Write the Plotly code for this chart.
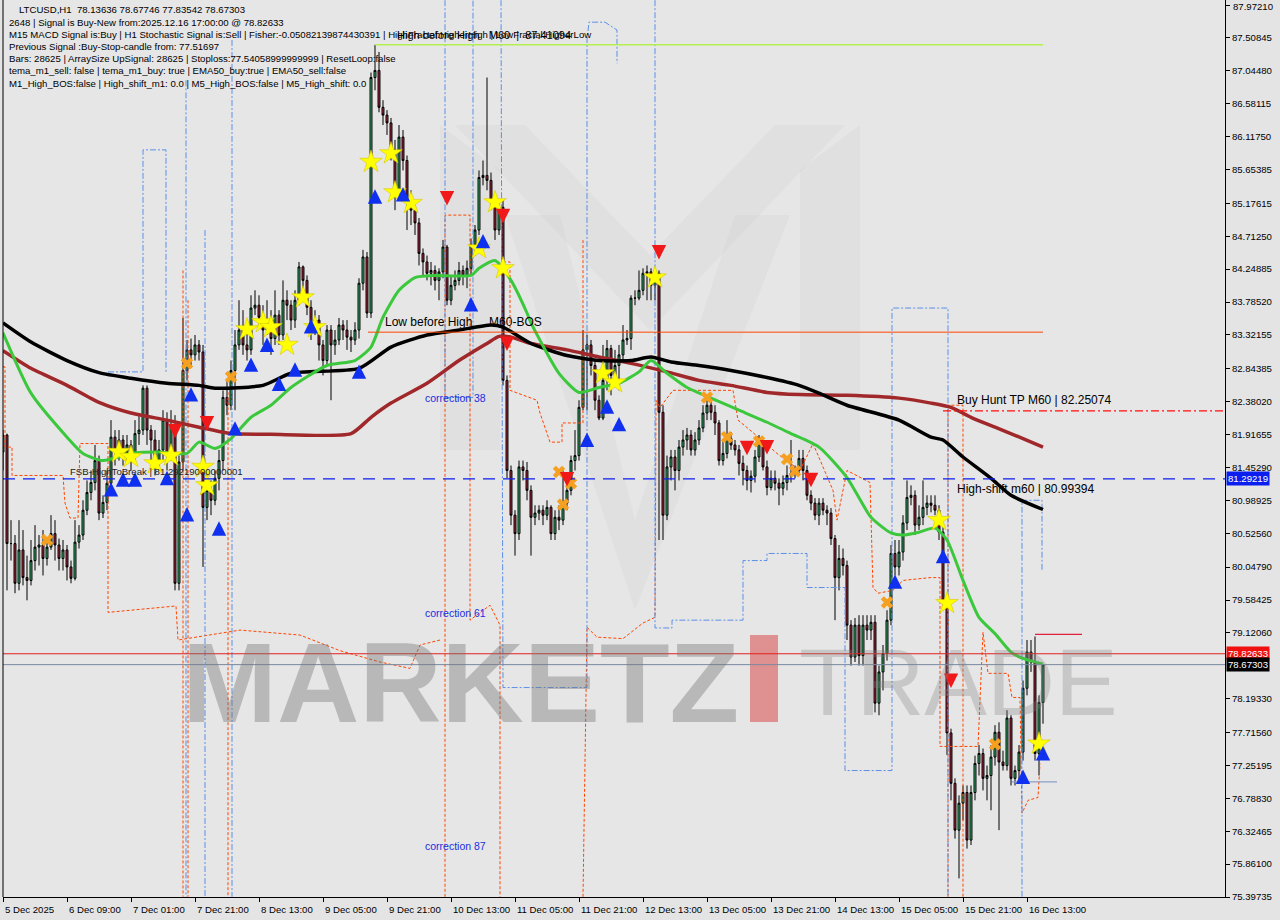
import plotly.graph_objects as go

# ---------------- data ----------------
time_tick_bars = [0, 16, 32, 48, 64, 80, 96, 112, 128, 144, 160, 176, 192, 208, 224, 240, 256]
time_tick_labels = ["5 Dec 2025", "6 Dec 09:00", "7 Dec 01:00", "7 Dec 21:00", "8 Dec 13:00",
                    "9 Dec 05:00", "9 Dec 21:00", "10 Dec 13:00", "11 Dec 05:00", "11 Dec 21:00",
                    "12 Dec 13:00", "13 Dec 05:00", "13 Dec 21:00", "14 Dec 13:00", "15 Dec 05:00",
                    "15 Dec 21:00", "16 Dec 13:00"]
price_tick_values = [87.97210, 87.50845, 87.04480, 86.58115, 86.11750, 85.65385, 85.17615, 84.71250,
                     84.24885, 83.78520, 83.32155, 82.84385, 82.38020, 81.91655, 81.45290, 80.98925,
                     80.52560, 80.04790, 79.58425, 79.12060, 78.19330, 77.71560, 77.25195, 76.78830,
                     76.32465, 75.86100, 75.39735]
price_tick_labels = ["%.5f" % v for v in price_tick_values]

first_open = 81.67
closes = [
    81.91, 80.38, 80.38, 79.82, 80.29, 79.90, 79.86, 80.14, 80.33, 80.36,
    80.17, 80.33, 80.52, 80.36, 80.17, 80.29, 80.05, 79.89, 80.40, 80.50,
    80.85, 81.10, 81.24, 81.55, 80.81, 80.96, 81.23, 81.88, 81.70, 81.84,
    81.62, 81.77, 81.62, 81.93, 81.98, 82.57, 81.98, 81.84, 81.55, 81.70,
    82.12, 81.62, 82.05, 79.82, 81.53, 82.82, 83.11, 83.04, 83.18, 83.08,
    80.89, 81.13, 80.99, 81.30, 81.55, 82.44, 82.33, 82.82, 83.18, 83.39,
    83.18, 83.11, 83.70, 83.74, 83.57, 83.39, 83.53, 83.27, 83.60, 83.32,
    83.81, 83.74, 83.53, 83.81, 84.28, 84.09, 83.71, 83.43, 83.53, 83.18,
    82.96, 83.39, 83.18, 83.25, 83.46, 83.39, 83.29, 83.25, 83.39, 84.05,
    84.42, 83.63, 86.95, 87.05, 86.53, 86.42, 86.31, 85.93, 85.36, 86.11,
    85.78, 85.22, 85.08, 84.90, 84.47, 84.35, 84.19, 84.23, 84.09, 84.21,
    84.56, 83.81, 84.02, 84.09, 84.23, 84.16, 84.26, 84.59, 84.80, 85.54,
    85.57, 85.50, 85.22, 84.80, 85.12, 82.68, 81.41, 80.78, 80.52, 81.46,
    81.41, 81.13, 80.75, 80.81, 80.85, 80.78, 80.89, 80.52, 80.75, 80.71,
    80.95, 81.13, 81.55, 81.62, 82.30, 83.11, 83.18, 82.89, 82.40, 82.15,
    82.68, 83.13, 82.75, 82.89, 83.04, 83.25, 83.27, 83.84, 83.84, 83.95,
    84.19, 84.21, 84.02, 84.19, 82.23, 80.78, 81.46, 81.60, 81.41, 81.74,
    81.84, 81.91, 81.70, 81.84, 82.01, 82.22, 82.33, 82.23, 82.08, 81.55,
    81.65, 81.86, 81.77, 81.70, 81.51, 81.41, 81.27, 81.33, 81.60, 81.79,
    81.46, 81.17, 81.30, 81.23, 81.16, 81.24, 81.34, 81.37, 81.41, 81.58,
    81.41, 81.06, 80.95, 80.78, 80.95, 80.85, 80.81, 80.45, 79.90, 80.17,
    80.07, 79.23, 78.78, 79.23, 78.80, 79.23, 79.16, 79.27, 78.13, 78.57,
    78.83, 79.30, 80.24, 80.05, 80.26, 80.67, 81.03, 81.06, 80.64, 80.75,
    80.89, 80.95, 80.92, 80.85, 80.54, 79.58, 77.71, 77.00, 76.34, 76.72,
    76.87, 76.20, 76.87, 77.28, 77.42, 77.07, 77.11, 77.37, 77.72, 77.30,
    77.25, 77.92, 77.07, 77.18, 77.44, 78.34, 78.85, 78.71, 77.42, 78.14,
    78.67]
highs = [
    81.98, 81.93, 80.71, 80.50, 80.71, 80.57, 80.21, 80.43, 80.64, 80.50,
    80.57, 80.43, 80.78, 80.71, 80.45, 80.43, 80.36, 80.14, 80.71, 80.64,
    80.99, 81.27, 81.41, 81.77, 81.62, 81.06, 81.41, 82.12, 81.98, 81.98,
    81.91, 81.91, 81.84, 82.12, 82.19, 82.61, 82.61, 82.05, 81.98, 81.84,
    82.26, 82.23, 82.26, 82.19, 81.62, 83.56, 83.25, 83.27, 83.32, 83.25,
    83.18, 81.41, 81.27, 81.41, 81.70, 82.54, 82.68, 82.96, 83.39, 83.81,
    83.67, 83.53, 83.88, 83.95, 83.88, 83.74, 83.81, 83.67, 83.95, 83.67,
    84.09, 83.95, 83.81, 83.95, 84.35, 84.30, 84.16, 83.81, 83.67, 83.60,
    83.25, 83.46, 83.46, 83.39, 83.56, 83.53, 83.53, 83.39, 83.50, 84.12,
    84.52, 84.49, 87.02, 87.41, 87.31, 86.63, 86.49, 86.38, 86.07, 86.28,
    86.21, 85.85, 85.36, 85.15, 84.97, 84.54, 84.44, 84.35, 84.30, 84.26,
    84.66, 84.59, 84.16, 84.23, 84.35, 84.30, 84.37, 84.68, 84.87, 85.64,
    85.78, 86.95, 85.61, 85.29, 85.22, 85.22, 82.75, 81.48, 80.85, 81.55,
    81.55, 81.53, 81.20, 80.92, 80.92, 80.92, 80.99, 80.92, 80.85, 80.92,
    81.41, 81.27, 81.62, 81.98, 82.40, 83.39, 83.32, 83.25, 82.96, 82.47,
    83.18, 83.25, 83.18, 83.11, 83.18, 83.46, 83.39, 83.88, 83.95, 84.23,
    84.26, 84.30, 84.26, 84.26, 84.23, 82.33, 81.62, 81.70, 81.70, 81.84,
    81.98, 82.01, 81.98, 81.95, 82.12, 82.33, 82.40, 82.43, 82.33, 82.12,
    81.84, 82.12, 81.95, 81.84, 81.77, 81.62, 81.48, 81.41, 81.70, 81.91,
    81.86, 81.55, 81.41, 81.41, 81.30, 81.34, 81.48, 81.84, 81.48, 81.70,
    81.70, 81.48, 81.13, 81.02, 81.02, 81.02, 80.92, 80.88, 80.50, 80.36,
    80.31, 80.14, 79.30, 79.33, 79.37, 79.37, 79.37, 79.37, 79.37, 78.66,
    78.95, 79.44, 80.36, 80.43, 80.43, 80.78, 81.27, 81.20, 81.13, 80.92,
    81.27, 81.06, 81.06, 81.06, 80.92, 80.64, 79.65, 77.77, 77.07, 76.83,
    76.97, 76.97, 76.97, 77.39, 77.54, 77.49, 77.25, 77.54, 77.82, 77.86,
    77.46, 78.03, 77.96, 77.25, 77.54, 78.45, 79.02, 79.02, 79.07, 78.24,
    78.68]
lows = [
    81.41, 79.72, 80.14, 79.68, 79.72, 79.79, 79.58, 79.79, 80.00, 80.07,
    79.93, 80.07, 80.29, 80.14, 80.00, 80.00, 79.86, 79.82, 79.86, 80.31,
    80.43, 80.78, 80.99, 81.13, 80.71, 80.74, 80.85, 81.13, 81.48, 81.55,
    81.48, 81.53, 81.41, 81.53, 81.77, 81.91, 81.77, 81.55, 81.34, 81.41,
    81.53, 81.41, 81.55, 79.72, 79.72, 81.41, 82.68, 82.89, 82.96, 82.96,
    80.05, 80.71, 80.78, 80.92, 81.13, 81.41, 82.19, 82.26, 82.26, 83.11,
    83.04, 82.96, 83.04, 83.60, 83.46, 83.18, 83.32, 83.04, 83.18, 83.18,
    83.25, 83.53, 83.39, 83.42, 83.74, 83.95, 83.60, 83.25, 83.32, 82.96,
    82.75, 82.89, 82.40, 83.04, 83.18, 83.25, 83.11, 83.08, 83.18, 83.27,
    83.95, 83.56, 83.56, 86.77, 86.46, 86.28, 86.14, 85.78, 85.08, 85.29,
    85.64, 84.80, 84.87, 84.73, 84.30, 84.16, 84.09, 84.02, 83.95, 83.81,
    84.12, 83.74, 83.74, 83.95, 84.02, 84.02, 83.98, 84.16, 84.44, 84.73,
    85.43, 85.36, 85.08, 84.66, 84.73, 82.61, 81.30, 80.64, 80.21, 80.43,
    81.27, 80.99, 80.21, 80.64, 80.71, 80.64, 80.71, 80.43, 80.43, 80.57,
    80.64, 80.85, 81.06, 81.41, 81.55, 82.26, 82.26, 82.75, 82.26, 82.12,
    82.12, 82.54, 82.47, 82.61, 82.54, 82.96, 83.18, 83.11, 83.74, 83.81,
    83.88, 83.81, 83.81, 83.81, 80.43, 80.43, 80.71, 81.27, 81.13, 81.27,
    81.62, 81.70, 81.62, 81.62, 81.77, 81.95, 82.12, 82.12, 81.91, 81.48,
    81.48, 81.58, 81.70, 81.62, 81.34, 81.20, 81.13, 81.10, 81.24, 81.53,
    81.41, 81.06, 81.13, 81.13, 80.92, 81.06, 81.13, 81.24, 81.30, 81.34,
    81.27, 80.99, 80.85, 80.71, 80.64, 80.78, 80.64, 80.36, 79.30, 79.72,
    79.93, 79.02, 78.66, 78.71, 78.66, 78.66, 79.02, 79.02, 78.00, 77.96,
    78.31, 78.73, 79.23, 79.93, 79.93, 80.14, 80.57, 80.92, 80.50, 80.57,
    80.64, 80.78, 80.82, 80.78, 80.43, 79.44, 77.40, 76.76, 76.22, 75.66,
    76.48, 76.08, 76.13, 76.76, 77.11, 76.90, 76.76, 76.62, 77.25, 76.34,
    77.18, 77.18, 76.97, 76.97, 77.01, 77.32, 78.24, 78.57, 77.32, 77.11,
    77.84]

# moving averages (read at key bars)
ma_black_bars = [0, 7, 16, 24, 32, 41, 49, 53, 65, 72, 89, 97, 106, 114, 122, 125, 132, 141, 149,
                 157, 162, 167, 174, 182, 191, 199, 204, 211, 224, 232, 235, 240, 247, 252, 260]
ma_black_vals = [83.49, 83.22, 82.96, 82.79, 82.71, 82.64, 82.61, 82.57, 82.61, 82.78, 82.85, 83.15,
                 83.32, 83.39, 83.46, 83.43, 83.20, 83.03, 82.96, 82.96, 83.01, 82.94, 82.89, 82.82,
                 82.72, 82.61, 82.50, 82.33, 82.12, 81.88, 81.84, 81.60, 81.30, 81.06, 80.86]
ma_brown_bars = [0, 7, 16, 24, 32, 41, 49, 57, 67, 87, 92, 97, 106, 114, 121, 124, 127, 132, 141,
                 149, 157, 166, 174, 182, 191, 199, 211, 224, 232, 237, 242, 248, 255, 260]
ma_brown_vals = [83.10, 82.85, 82.61, 82.37, 82.22, 82.12, 82.02, 81.93, 81.92, 81.93, 82.16, 82.36,
                 82.64, 82.96, 83.20, 83.30, 83.29, 83.20, 83.11, 83.01, 82.92, 82.80, 82.68, 82.61,
                 82.51, 82.48, 82.47, 82.43, 82.36, 82.30, 82.16, 82.02, 81.86, 81.74]
ma_green_bars = [0, 7, 16, 20, 25, 32, 39, 46, 49, 53, 57, 62, 67, 72, 81, 88, 92, 95, 99, 103,
                 108, 117, 119, 123, 127, 131, 132, 139, 144, 149, 154, 159, 162, 166, 171, 177,
                 184, 191, 197, 204, 211, 217, 222, 225, 229, 233, 236, 240, 244, 248, 252, 255, 260]
ma_green_vals = [83.35, 82.50, 81.88, 81.65, 81.55, 81.65, 81.67, 81.65, 81.81, 81.72, 81.86, 82.16,
                 82.33, 82.58, 82.89, 82.96, 83.15, 83.57, 83.95, 84.13, 84.16, 84.16, 84.26, 84.37,
                 84.09, 83.63, 83.49, 82.78, 82.51, 82.58, 82.64, 82.80, 82.96, 82.78, 82.58, 82.43,
                 82.26, 82.09, 81.93, 81.74, 81.31, 80.75, 80.53, 80.50, 80.54, 80.60, 80.43, 79.86,
                 79.34, 79.11, 78.85, 78.76, 78.68]

# signal markers
star_bars = [29, 32, 38, 42, 50, 51, 61, 65, 67, 71, 75, 78, 92, 97, 98, 102, 119, 123, 125, 150, 153, 163, 234, 236, 259]
star_prices = [81.67, 81.60, 81.51, 81.62, 81.46, 81.20, 83.40, 83.50, 83.43, 83.18, 83.85, 83.43, 85.76,
               85.88, 85.33, 85.18, 84.54, 85.19, 84.26, 82.78, 82.65, 84.13, 80.71, 79.54, 77.56]
up_bars = [27, 30, 33, 41, 46, 47, 54, 58, 62, 66, 69, 73, 77, 89, 93, 100, 117, 120, 146, 151, 154, 223, 235, 255, 260]
up_prices = [81.16, 81.30, 81.30, 81.32, 80.81, 82.50, 80.61, 82.02, 82.92, 83.20, 82.65, 82.85, 83.46,
             82.82, 85.29, 85.32, 83.77, 84.66, 81.86, 82.33, 82.08, 79.86, 80.22, 77.11, 77.44]
down_bars = [43, 51, 111, 125, 126, 141, 164, 186, 191, 202, 237]
down_prices = [81.95, 82.06, 85.23, 84.98, 83.18, 81.27, 84.47, 81.71, 81.72, 81.26, 78.43]
cross_bars = [11, 46, 57, 139, 140, 142, 176, 181, 189, 196, 198, 221, 248]
cross_prices = [80.43, 82.92, 82.73, 81.39, 80.93, 81.23, 82.44, 81.88, 81.82, 81.57, 81.40, 79.55, 77.55]

# indicator step lines (bar position, price)
orange_a_bars = [0, 0.5, 0.5, 2.25, 2.25, 15, 15.5, 16.75, 18.75, 19.25, 26.25, 26.25, 43.25, 43.75,
                 59.25, 74.25, 84.25, 94.25, 101.75, 104.25, 109.25]
orange_a_prices = [82.87, 82.87, 81.74, 81.74, 81.34, 81.34, 80.95, 80.74, 80.74, 81.79, 81.79, 79.41,
                   79.50, 79.02, 79.16, 79.09, 78.87, 78.71, 78.62, 78.95, 79.02]
orange_b_bars = [45, 45]
orange_b_prices = [84.23, 75.40]
orange_c_bars = [46.25, 46.25]
orange_c_prices = [83.81, 75.40]
orange_d_bars = [51, 56.25, 56.25]
orange_d_prices = [82.57, 82.57, 75.40]
orange_e_bars = [110.5, 110.5, 116.75, 116.75, 121.75, 124.25, 124.25]
orange_e_prices = [75.40, 85.01, 85.01, 79.30, 79.51, 79.23, 75.40]
orange_f_bars = [125, 126.75, 126.75, 133.5, 134.25, 136.75, 139.75, 139.75, 145, 145]
orange_f_prices = [84.35, 84.35, 82.54, 82.40, 82.22, 81.81, 81.81, 82.08, 82.08, 84.66]
orange_g_bars = [145, 146, 148.5, 155, 160, 163, 163.25, 164.25, 167.5, 182.5, 183.75, 186.75, 193.5,
                 199.25, 202.5, 207.5, 208.5, 211, 216.75, 217.5, 218.75, 222.5, 225, 231.75, 234.25,
                 234.25, 243.75, 245, 246.25, 251.25, 252.25, 254.25, 254.75, 256.25, 258.75, 259.25]
orange_g_prices = [75.40, 79.20, 79.06, 79.04, 79.26, 79.34, 82.40, 82.30, 82.54, 82.54, 82.12, 81.98,
                   81.65, 81.41, 81.79, 81.13, 80.71, 81.41, 81.24, 79.76, 79.68, 79.72, 79.86, 79.90,
                   79.90, 77.52, 77.52, 79.13, 78.55, 78.55, 78.21, 78.21, 76.58, 76.76, 76.80, 77.28]
orange_h_bars = [236.25, 236.25, 240, 240]
orange_h_prices = [75.40, 82.33, 82.33, 75.40]

blue_a_bars = [26.25, 35, 35, 40.75, 40.75]
blue_a_prices = [82.80, 82.80, 85.93, 85.93, 82.80]
blue_b_bars = [45.75, 45.75]
blue_b_prices = [86.91, 75.40]
blue_c_bars = [50.5, 50.5]
blue_c_prices = [84.80, 75.40]
blue_d_bars = [57.25, 57.25]
blue_d_prices = [87.48, 75.40]
blue_e_bars = [110.5, 110.5, 117.5, 117.5]
blue_e_prices = [88.04, 82.44, 82.44, 88.04]
blue_f_bars = [124.5, 125, 146, 146, 146.5, 150.5, 153.5, 153.5]
blue_f_prices = [88.04, 78.35, 78.35, 87.48, 87.73, 87.73, 87.62, 87.15]
blue_g_bars = [163, 163, 167.25, 167.25, 185, 185, 191, 191, 201, 201, 210.5, 210.5, 222.25, 222.25,
               236.25, 236.25]
blue_g_prices = [88.04, 79.19, 79.19, 79.30, 79.30, 80.14, 80.14, 80.24, 80.24, 79.76, 79.76, 77.18,
                 77.18, 83.70, 83.70, 75.40]
blue_h_bars = [254.75, 254.75, 259.75, 259.75]
blue_h_prices = [75.40, 80.99, 80.99, 80.00]

# levels
level_fsb = 81.29219
level_signal = 78.82633
level_close = 78.67303
level_tp = 82.25074
level_high_before = 87.41094
level_low_before = 83.36
level_last_high = 79.10
level_last_low = 77.02

header_lines = [
    "LTCUSD,H1  78.13636 78.67746 77.83542 78.67303",
    "2648 | Signal is Buy-New from:2025.12.16 17:00:00 @ 78.82633",
    "M15 MACD Signal is:Buy | H1 Stochastic Signal is:Sell | Fisher:-0.05082139874430391 | HighFractal:HigherHigh | LowFractal:HigherLow",
    "Previous Signal :Buy-Stop-candle from: 77.51697",
    "Bars: 28625 | ArraySize UpSignal: 28625 | Stoploss:77.54058999999999 | ResetLoop:false",
    "tema_m1_sell: false | tema_m1_buy: true | EMA50_buy:true | EMA50_sell:false",
    "M1_High_BOS:false | High_shift_m1: 0.0 | M5_High_BOS:false | M5_High_shift: 0.0",
]

# ---------------- figure ----------------
FONT = "Liberation Sans, Arial, sans-serif"
L, R, T, B = 3, 55, 0, 23
PW, PH = 1280 - L - R, 920 - T - B
X_END = 305.5
Y_MIN, Y_MAX = 75.39735, 88.0426


def PX(x):
    return (x - L) / PW


def PY(y):
    return 1 - (y - T) / PH


def ppath(points):
    return "M " + " L ".join("%.5f,%.5f" % (PX(x), PY(y)) for x, y in points) + " Z"


opens = [first_open] + closes[:-1]
bars = list(range(len(closes)))

fig = go.Figure()


def step(xs, ys, color, dash, width=1):
    fig.add_trace(go.Scatter(x=xs, y=ys, mode="lines", line=dict(color=color, width=width, dash=dash),
                             hoverinfo="skip", showlegend=False))


OR = "#ff4500"
BL = "#5b8fe8"
for xs, ys in [(orange_a_bars, orange_a_prices), (orange_b_bars, orange_b_prices),
               (orange_c_bars, orange_c_prices), (orange_d_bars, orange_d_prices),
               (orange_e_bars, orange_e_prices), (orange_f_bars, orange_f_prices),
               (orange_g_bars, orange_g_prices), (orange_h_bars, orange_h_prices)]:
    step(xs, ys, OR, "3px,2px")
for xs, ys in [(blue_a_bars, blue_a_prices), (blue_b_bars, blue_b_prices), (blue_c_bars, blue_c_prices),
               (blue_d_bars, blue_d_prices), (blue_e_bars, blue_e_prices), (blue_f_bars, blue_f_prices),
               (blue_g_bars, blue_g_prices), (blue_h_bars, blue_h_prices)]:
    step(xs, ys, BL, "6px,2px,2px,2px")

fig.add_trace(go.Scatter(x=ma_brown_bars, y=ma_brown_vals, mode="lines",
                         line=dict(color="#a0282a", width=3.5, shape="spline", smoothing=0.6),
                         hoverinfo="skip", showlegend=False))
fig.add_trace(go.Scatter(x=ma_black_bars, y=ma_black_vals, mode="lines",
                         line=dict(color="#000000", width=3.5, shape="spline", smoothing=0.6),
                         hoverinfo="skip", showlegend=False))

fig.add_trace(go.Candlestick(
    x=bars, open=opens, high=highs, low=lows, close=closes,
    increasing=dict(line=dict(color="#000000", width=1), fillcolor="#33c070"),
    decreasing=dict(line=dict(color="#000000", width=1), fillcolor="#b3283c"),
    whiskerwidth=0, showlegend=False, hoverinfo="skip"))

fig.add_trace(go.Scatter(x=ma_green_bars, y=ma_green_vals, mode="lines",
                         line=dict(color="#3cc83c", width=3, shape="spline", smoothing=0.6),
                         hoverinfo="skip", showlegend=False))

fig.add_trace(go.Scatter(x=cross_bars, y=cross_prices, mode="markers",
                         marker=dict(symbol="x", size=11, color="#f5a020", line=dict(width=0)),
                         hoverinfo="skip", showlegend=False))
fig.add_trace(go.Scatter(x=star_bars, y=star_prices, mode="markers",
                         marker=dict(symbol="star", size=17, color="#ffff00", line=dict(width=0.6, color="#d8c800")),
                         hoverinfo="skip", showlegend=False))

shapes = []
for pts, op in [([(440, 125), (500, 170), (500, 450), (440, 450)], 0.045),
                ([(800, 170), (860, 125), (860, 450), (800, 450)], 0.045),
                ([(455, 125), (525, 125), (650, 255), (775, 125), (845, 125), (650, 330)], 0.045),
                ([(505, 215), (560, 215), (635, 520), (735, 215), (790, 215), (635, 610)], 0.035)]:
    shapes.append(dict(type="path", xref="paper", yref="paper", path=ppath(pts),
                       fillcolor="rgba(90,90,90,%.3f)" % op, line=dict(width=0), layer="below"))
shapes.append(dict(type="rect", xref="paper", yref="paper", x0=PX(750), x1=PX(778), y0=PY(722), y1=PY(635),
                   fillcolor="rgba(215,60,60,0.5)", line=dict(width=0), layer="below"))

shapes += [
    dict(type="line", xref="paper", yref="y", x0=0, x1=1, y0=level_fsb, y1=level_fsb,
         line=dict(color="#0a1ef0", width=1.3, dash="12px,8px")),
    dict(type="line", xref="paper", yref="y", x0=0, x1=1, y0=level_signal, y1=level_signal,
         line=dict(color="#e02020", width=1)),
    dict(type="line", xref="paper", yref="y", x0=0, x1=1, y0=level_close, y1=level_close,
         line=dict(color="#7888a0", width=1)),
    dict(type="line", xref="x", yref="y", x0=235, x1=X_END, y0=level_tp, y1=level_tp,
         line=dict(color="#ff1010", width=1.2, dash="8px,3px,2px,3px")),
    dict(type="line", xref="x", yref="y", x0=93, x1=260, y0=level_high_before, y1=level_high_before,
         line=dict(color="#b4f050", width=1.5)),
    dict(type="line", xref="x", yref="y", x0=91.25, x1=260, y0=level_low_before, y1=level_low_before,
         line=dict(color="#ff4500", width=1)),
    dict(type="line", xref="x", yref="y", x0=258, x1=269.75, y0=level_last_high, y1=level_last_high,
         line=dict(color="#e0203c", width=1.2)),
    dict(type="line", xref="x", yref="y", x0=252.25, x1=263.5, y0=level_last_low, y1=level_last_low,
         line=dict(color="#8aa0c8", width=1.2)),
    dict(type="line", xref="paper", yref="paper", x0=0, x1=0, y0=0, y1=1, line=dict(color="#000000", width=1)),
]

ann = []
for b_, p_ in zip(up_bars, up_prices):
    ann.append(dict(x=b_, y=p_, xref="x", yref="y", ax=0, ay=13, text="", showarrow=True,
                    arrowhead=2, arrowsize=0.9, arrowwidth=3.2, arrowcolor="#1030f0", yshift=6, standoff=0))
for b_, p_ in zip(down_bars, down_prices):
    ann.append(dict(x=b_, y=p_, xref="x", yref="y", ax=0, ay=-13, text="", showarrow=True,
                    arrowhead=2, arrowsize=0.9, arrowwidth=3.2, arrowcolor="#f01818", yshift=-6, standoff=0))

for k, line in enumerate(header_lines):
    ann.append(dict(x=PX(17 if k == 0 else 7), y=PY(10 + 12.2 * k), xref="paper", yref="paper", text=line,
                    showarrow=False, xanchor="left", yanchor="middle",
                    font=dict(family=FONT, size=9.6, color="#000000")))


def label(x, y, text, size=11.5, color="#000000"):
    ann.append(dict(x=PX(x), y=PY(y), xref="paper", yref="paper", text=text, showarrow=False,
                    xanchor="left", yanchor="middle", font=dict(family=FONT, size=size, color=color)))


label(395, 35, "High before High   M60  |  87.41094", 11)
label(383, 322, "Low before High     M60-BOS", 12)
label(955, 400, "Buy Hunt TP M60 | 82.25074", 12)
label(955, 489, "High-shift m60 | 80.99394", 12)
label(68, 472, "FSB-HighToBreak | 81.29219000000001", 9.6, "#202020")
label(423, 398, "correction 38", 10.5, "#1a2ee0")
label(423, 613, "correction 61", 10.5, "#1a2ee0")
label(423, 846, "correction 87", 10.5, "#1a2ee0")

ann.append(dict(x=PX(460), y=PY(682), xref="paper", yref="paper", text="<b>MARKETZ</b>", showarrow=False,
                xanchor="center", yanchor="middle",
                font=dict(family=FONT, size=114, color="rgba(115,115,115,0.40)")))
ann.append(dict(x=PX(958), y=PY(682), xref="paper", yref="paper", text="TRADE", showarrow=False,
                xanchor="center", yanchor="middle",
                font=dict(family=FONT, size=94, color="rgba(130,130,130,0.30)")))

for b_, t_ in zip(time_tick_bars, time_tick_labels):
    ann.append(dict(x=b_, y=PY(902), xref="x", yref="paper", text=t_, showarrow=False,
                    xanchor="left", yanchor="top", font=dict(family=FONT, size=9.6, color="#000000")))

# top price label (drawn explicitly so it is not dropped at the edge)
ann.append(dict(x=1, y=price_tick_values[0], xref="paper", yref="y", text=price_tick_labels[0],
                showarrow=False, xanchor="left", yanchor="middle", xshift=6, yshift=-1,
                font=dict(family=FONT, size=9.6, color="#000000")))

for val, bg in [(level_fsb, "#0a1ef0"), (level_signal, "#f01010"), (level_close, "#000000")]:
    ann.append(dict(x=1, y=val, xref="paper", yref="y", text="%.5f" % val, showarrow=False,
                    xanchor="left", yanchor="middle", xshift=1, bgcolor=bg, borderpad=1,
                    font=dict(family=FONT, size=9.6, color="#ffffff")))

tick_text_shown = [""] + price_tick_labels[1:]

fig.update_layout(
    width=1280, height=920,
    margin=dict(l=L, r=R, t=T, b=B),
    paper_bgcolor="#e4e4e4", plot_bgcolor="#e6e6e6",
    showlegend=False, hovermode=False,
    shapes=shapes, annotations=ann,
    xaxis=dict(range=[0, X_END], rangeslider=dict(visible=False), showgrid=False, zeroline=False,
               tickvals=time_tick_bars, ticktext=[""] * len(time_tick_bars), ticks="outside", ticklen=4,
               tickcolor="#000000", showline=True, linecolor="#000000", linewidth=1, fixedrange=True),
    yaxis=dict(range=[Y_MIN, Y_MAX], side="right", showgrid=False, zeroline=False,
               tickvals=price_tick_values, ticktext=tick_text_shown, ticks="outside", ticklen=4,
               tickcolor="#000000", showline=True, linecolor="#000000", linewidth=1,
               tickfont=dict(family=FONT, size=9.6, color="#000000"), fixedrange=True),
)

fig.write_html("out.html", config={"displayModeBar": False},
               post_script="document.body.style.margin='0';document.body.style.overflow='hidden';")
